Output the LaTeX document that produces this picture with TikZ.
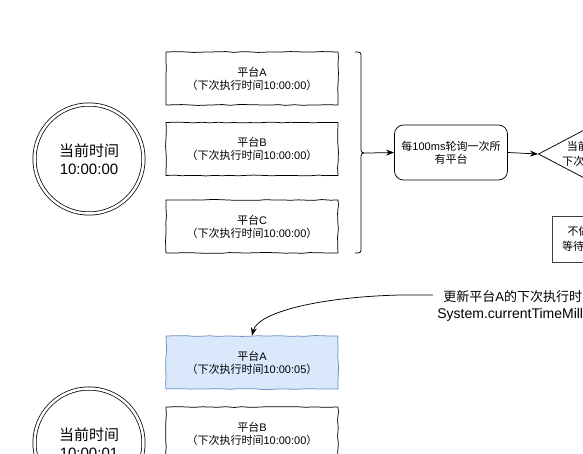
\documentclass[tikz,border=0pt]{standalone}
\usepackage{fontspec}
\setmainfont{Liberation Sans}
\newfontfamily\cjk{Noto Sans CJK SC}
\usetikzlibrary{arrows.meta,shapes.geometric,decorations.pathmorphing}
\definecolor{hibg}{HTML}{DAE8FC}
\definecolor{hiline}{HTML}{6C8EBF}
\newcommand{\zh}[1]{{\cjk #1}}
\tikzset{
  sketch/.style={decorate, decoration={random steps, segment length=8pt, amplitude=0.45pt}},
  platbox/.style={draw, sketch, minimum width=172pt, minimum height=53pt, align=center, inner sep=2pt, font=\fontsize{11}{13}\selectfont},
  clock/.style={circle, draw, double, double distance=2.5pt, minimum size=109pt, align=center, font=\fontsize{15}{18}\selectfont},
  link/.style={-{Stealth[length=8pt,width=6pt]}},
}
\begin{document}
\begin{tikzpicture}[x=1pt, y=-1pt, line width=0.75pt]
  \pgfmathsetseed{12}
  \useasboundingbox (0,0) rectangle (583,454);
  \clip (0,0) rectangle (583,454);

  % first poll
  \node[clock] (now1) at (89,159) {\zh{当前时间}\\10:00:00};
  \node[platbox] (pa) at (252,78.5) {\zh{平台}A\\\zh{（下次执行时间}10:00:00\zh{）}};
  \node[platbox] (pb) at (252,149) {\zh{平台}B\\\zh{（下次执行时间}10:00:00\zh{）}};
  \node[platbox] (pc) at (252,226.5) {\zh{平台}C\\\zh{（下次执行时间}10:00:00\zh{）}};

  \coordinate (brtip) at (368,153);
  \draw (355,52) .. controls (361,52) .. (361,58) -- (361,147)
    .. controls (361,153) .. (brtip) .. controls (361,153) .. (361,159)
    -- (361,247) .. controls (361,253) .. (355,253);

  \node[draw, rounded corners=9pt, minimum width=113pt, minimum height=55pt,
    align=center, font=\fontsize{11}{13}\selectfont] (poll) at (451,152.5)
    {\zh{每}100ms\zh{轮询一次所}\\\zh{有平台}};
  \node[draw, diamond, aspect=1.9, inner sep=0pt, align=center,
    font=\fontsize{11}{15}\selectfont, anchor=west] (check) at (538,154)
    {\zh{当前时间}>=\\\zh{下次执行时间}};
  \node[draw=black!75, minimum width=86pt, minimum height=46pt, align=center,
    font=\fontsize{11}{15}\selectfont] (skip) at (595,239)
    {\zh{不做处理，}\\\zh{等待下次轮询}};

  \draw[link] (brtip) -- (poll.west);
  \draw[link] (poll.east) -- (check.west);

  % second poll
  \node[platbox, fill=hibg, draw=hiline] (pa2) at (252,362.5) {\zh{平台}A\\\zh{（下次执行时间}10:00:05\zh{）}};
  \node[platbox] (pb2) at (252,433.5) {\zh{平台}B\\\zh{（下次执行时间}10:00:00\zh{）}};
  \node[clock] (now2) at (89,443) {\zh{当前时间}\\10:00:01};

  \coordinate (src) at (600,295);
  \coordinate (bend) at (400,295);
  \draw[link] (src) -- (bend) .. controls (320,297) and (258,312) .. (pa2.north);
  \node[fill=white, inner sep=4pt, align=left, anchor=west,
    font=\fontsize{13}{17}\selectfont] (note) at (433,305.5)
    {\hspace*{6pt}\zh{更新平台}A\zh{的下次执行时间为}\\{\fontsize{14}{17}\selectfont System.currentTimeMillis()+5s}};
\end{tikzpicture}
\end{document}
